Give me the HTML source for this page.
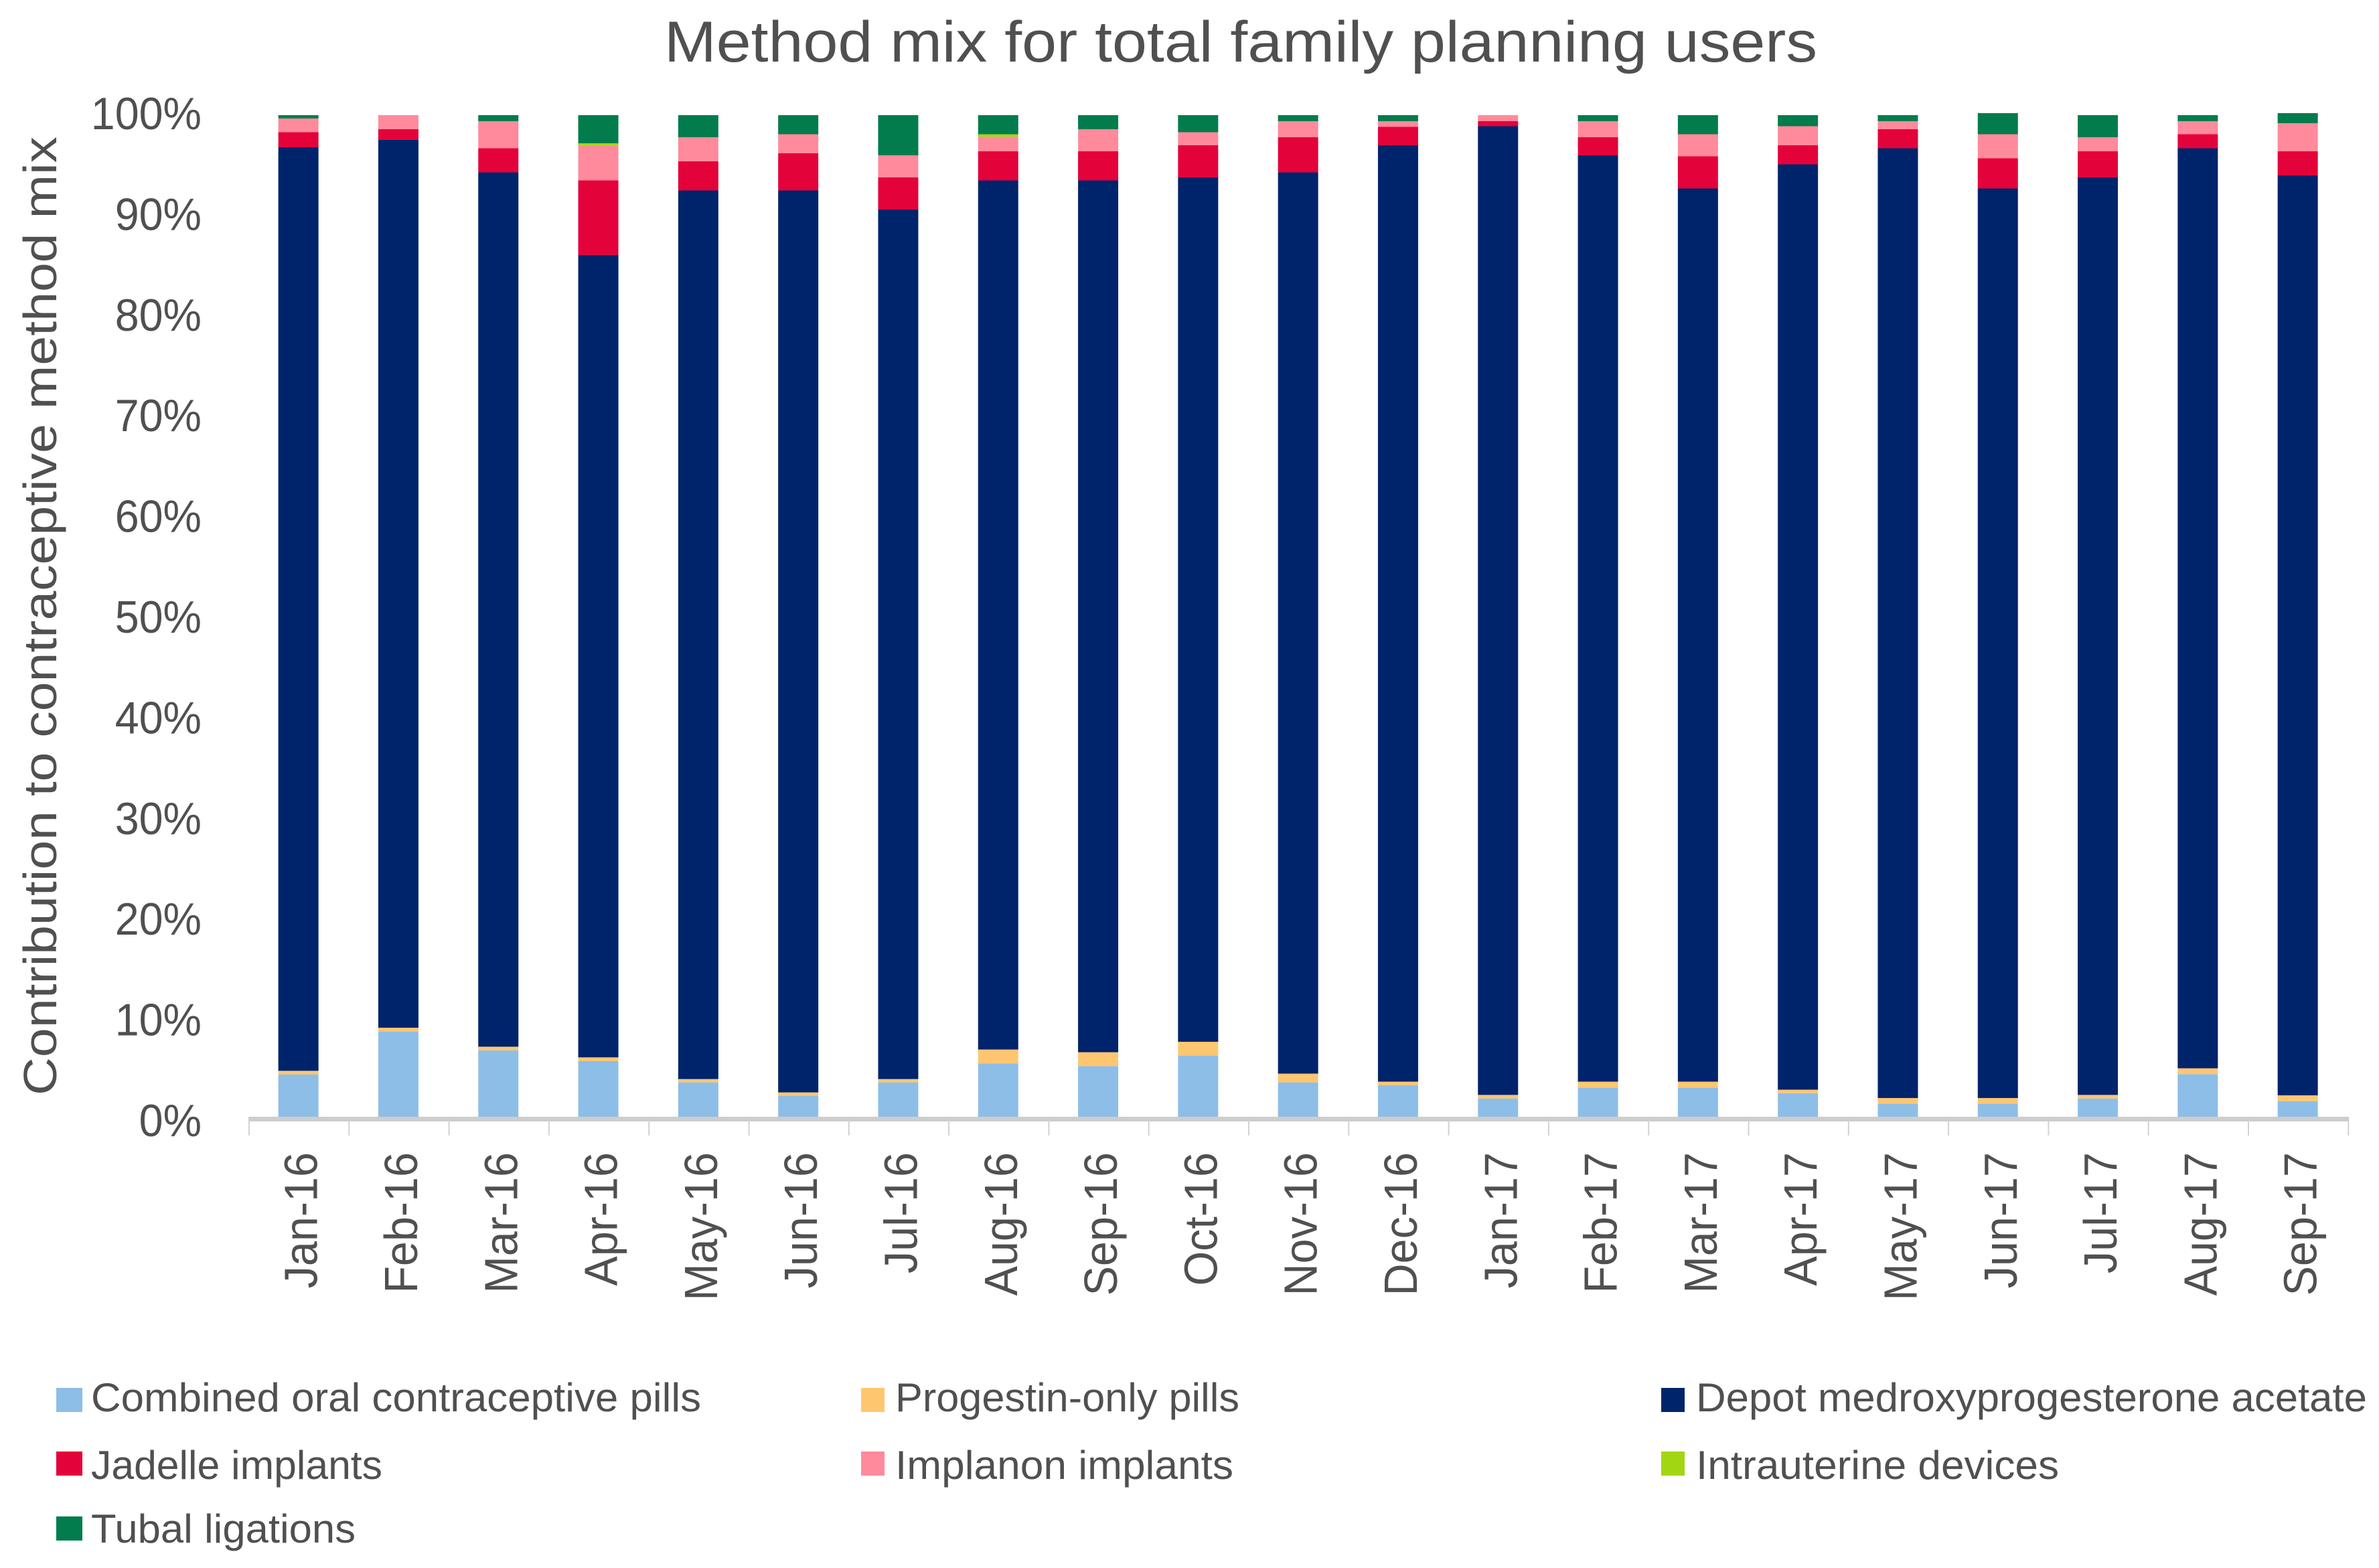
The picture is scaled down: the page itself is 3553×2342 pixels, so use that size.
<!DOCTYPE html>
<html lang="en">
<head>
<meta charset="utf-8">
<title>Method mix for total family planning users</title>
<style>
  html, body { margin: 0; padding: 0; background: #fff; }
  svg { display: block; }
  text { font-family: "Liberation Sans", sans-serif; fill: #505050; }
</style>
</head>
<body>
<svg id="chart" xmlns="http://www.w3.org/2000/svg" width="3553" height="2342" viewBox="0 0 3553 2342">
  <rect x="0" y="0" width="3553" height="2342" fill="#ffffff"/>
  <text x="992" y="92" font-size="86" textLength="1722" lengthAdjust="spacingAndGlyphs">Method mix for total family planning users</text>
  <text transform="translate(84,1636) rotate(-90)" font-size="70" textLength="1432" lengthAdjust="spacingAndGlyphs">Contribution to contraceptive method mix</text>
  <g id="bars"></g>
  <g id="x-axis"></g>
  <g id="y-axis"></g>
  <g>
    <g>
      <rect x="84" y="2073" width="39" height="36" fill="#8DBEE8"/>
      <text x="136" y="2108" font-size="60" textLength="911" lengthAdjust="spacingAndGlyphs">Combined oral contraceptive pills</text>
    </g>
    <g>
      <rect x="1286" y="2073" width="35" height="36" fill="#FFC670"/>
      <text x="1337" y="2108" font-size="60" textLength="514" lengthAdjust="spacingAndGlyphs">Progestin-only pills</text>
    </g>
    <g>
      <rect x="2481" y="2073" width="35" height="36" fill="#00246B"/>
      <text x="2533" y="2108" font-size="60" textLength="1002" lengthAdjust="spacingAndGlyphs">Depot medroxyprogesterone acetate</text>
    </g>
    <g>
      <rect x="84" y="2168" width="39" height="36" fill="#E4023A"/>
      <text x="136" y="2209" font-size="60" textLength="435" lengthAdjust="spacingAndGlyphs">Jadelle implants</text>
    </g>
    <g>
      <rect x="1286" y="2168" width="35" height="36" fill="#FF8A9C"/>
      <text x="1337" y="2209" font-size="60" textLength="505" lengthAdjust="spacingAndGlyphs">Implanon implants</text>
    </g>
    <g>
      <rect x="2481" y="2168" width="35" height="36" fill="#A2D613"/>
      <text x="2533" y="2209" font-size="60" textLength="542" lengthAdjust="spacingAndGlyphs">Intrauterine devices</text>
    </g>
    <g>
      <rect x="84" y="2265" width="39" height="36" fill="#027C4C"/>
      <text x="136" y="2304" font-size="60" textLength="395" lengthAdjust="spacingAndGlyphs">Tubal ligations</text>
    </g>
  </g>
</svg>
<script>
var categories = ["Jan-16","Feb-16","Mar-16","Apr-16","May-16","Jun-16","Jul-16","Aug-16","Sep-16","Oct-16","Nov-16","Dec-16","Jan-17","Feb-17","Mar-17","Apr-17","May-17","Jun-17","Jul-17","Aug-17","Sep-17"];
var combinedPills = [4.47,8.76,6.87,5.80,3.69,2.36,3.69,5.58,5.31,6.36,3.69,3.40,2.09,3.16,3.16,2.62,1.56,1.56,2.09,4.51,1.82];
var progestinPills = [0.37,0.37,0.37,0.38,0.33,0.33,0.33,1.38,1.38,1.37,0.87,0.36,0.35,0.60,0.60,0.34,0.57,0.57,0.35,0.58,0.58];
var depot = [91.96,88.43,87.06,79.89,88.48,89.81,86.58,86.54,86.81,86.07,89.74,93.24,96.46,92.24,88.94,92.14,94.57,90.57,91.36,91.61,91.60];
var jadelle = [1.5,1.04,2.4,7.43,2.9,3.7,3.2,2.9,2.9,3.2,3.5,1.85,0.5,1.8,3.2,1.9,1.9,3.0,2.6,1.4,2.4];
var implanon = [1.37,1.4,2.7,3.46,2.4,1.9,2.2,1.45,2.2,1.3,1.6,0.55,0.6,1.6,2.2,1.9,0.8,2.4,1.4,1.3,2.8];
var iud = [0,0,0,0.24,0,0,0,0.25,0,0,0,0,0,0,0,0,0,0,0,0,0];
var tubal = [0.33,0,0.6,2.8,2.2,1.9,4.0,1.9,1.4,1.7,0.6,0.6,0,0.6,1.9,1.1,0.6,2.1,2.2,0.6,1.0];
var yTicks = [0,10,20,30,40,50,60,70,80,90,100];
var seriesNames = ["combined-oral-contraceptive-pills","progestin-only-pills","depot-medroxyprogesterone-acetate","jadelle-implants","implanon-implants","intrauterine-devices","tubal-ligations"];
var seriesValues = [combinedPills, progestinPills, depot, jadelle, implanon, iud, tubal];
var seriesColors = ["#8DBEE8","#FFC670","#00246B","#E4023A","#FF8A9C","#A2D613","#027C4C"];

var NS = "http://www.w3.org/2000/svg";
var plotLeft = 371, bandWidth = 149.3, barWidth = 60;
var plotBottom = 1672, unitsPerPercent = 15;
function xBand(i) { return plotLeft + bandWidth * i; }
function xCenter(i) { return xBand(i) + bandWidth / 2; }
function yScale(v) { return plotBottom - unitsPerPercent * v; }
function yLabelBase(v) { return 1697 - 15.04 * v; }

var barsGroup = document.getElementById("bars");
categories.forEach(function (cat, i) {
  var cumulative = 0;
  seriesValues.forEach(function (vals, s) {
    var v = vals[i];
    if (v > 0) {
      var r = document.createElementNS(NS, "rect");
      
      
      r.setAttribute("x", xCenter(i) - barWidth / 2);
      r.setAttribute("y", yScale(cumulative + v));
      r.setAttribute("width", barWidth);
      r.setAttribute("height", v * unitsPerPercent);
      r.setAttribute("fill", seriesColors[s]);
      barsGroup.appendChild(r);
    }
    cumulative += v;
  });
});

var xAxis = document.getElementById("x-axis");
var axisLine = document.createElementNS(NS, "rect");


axisLine.setAttribute("x", xBand(0));
axisLine.setAttribute("y", plotBottom - 4);
axisLine.setAttribute("width", bandWidth * categories.length + 2);
axisLine.setAttribute("height", 7);
axisLine.setAttribute("fill", "#cdcdcd");
xAxis.appendChild(axisLine);
for (var t = 0; t <= categories.length; t++) {
  var tick = document.createElementNS(NS, "rect");
  
  
  tick.setAttribute("x", xBand(t));
  tick.setAttribute("y", plotBottom);
  tick.setAttribute("width", 2);
  tick.setAttribute("height", 24);
  tick.setAttribute("fill", "#d2d2d2");
  xAxis.appendChild(tick);
}
categories.forEach(function (cat, i) {
  var label = document.createElementNS(NS, "text");
  
  
  label.setAttribute("transform", "translate(" + (xCenter(i) + 28) + ",1721) rotate(-90) scale(0.95,1)");
  label.setAttribute("font-size", "70");
  label.setAttribute("text-anchor", "end");
  label.textContent = cat;
  xAxis.appendChild(label);
});

var yAxis = document.getElementById("y-axis");
yTicks.forEach(function (v) {
  var label = document.createElementNS(NS, "text");
  
  
  label.setAttribute("transform", "translate(301," + yLabelBase(v) + ") scale(0.95,1)");
  label.setAttribute("font-size", "68");
  label.setAttribute("text-anchor", "end");
  label.textContent = v + "%";
  yAxis.appendChild(label);
});
</script>
</body>
</html>
